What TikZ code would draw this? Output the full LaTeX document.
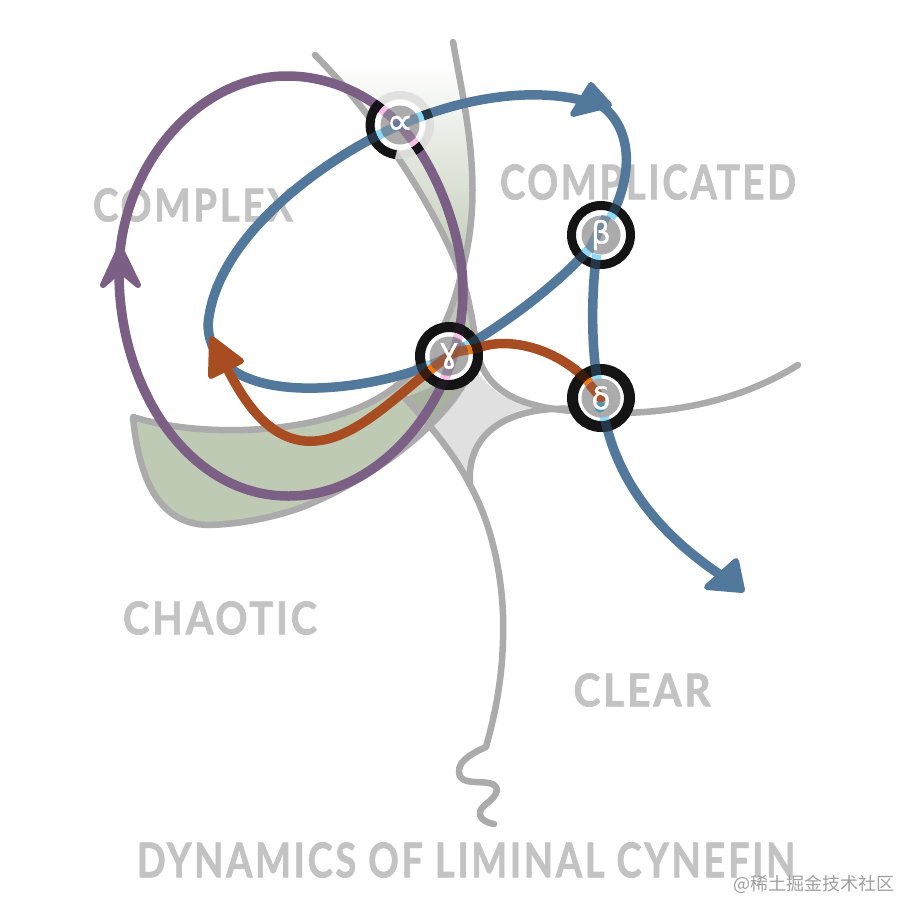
\documentclass[tikz,border=0pt]{standalone}
\usepackage{fontspec}
\setmainfont{Lato}[BoldFont={Lato Bold},BoldFeatures={FakeBold=1.6},LetterSpace=7]
\newfontfamily\gk{DejaVu Sans}[FakeBold=.6]
\newfontfamily\cjk{Noto Sans CJK SC}
\definecolor{bl}{HTML}{52799B}
\definecolor{pu}{HTML}{7B5F85}
\definecolor{rd}{HTML}{A84C22}
\definecolor{gy}{HTML}{ABABAB}
\definecolor{tx}{HTML}{C3C3C3}
\definecolor{gn}{HTML}{BFCAB5}
\definecolor{lg}{HTML}{E0E0E0}
\tikzset{
 lineg/.style={draw=gy,line width=6.5pt,line cap=round,line join=round},
 curve/.style={line width=9.5pt,line cap=round},
 tipb/.style={fill=#1,draw=#1,line width=6pt,line join=round},
 lab/.style={text=tx,inner sep=0pt,font=\bfseries},
 hubtxt/.style={text=white,inner sep=0pt},
 disc/.style={circle,fill=gy,draw=none,minimum size=39pt,inner sep=0pt},
}
\newcommand{\lbl}[5]{\node[lab] (#1) at (#2) {\resizebox{#3pt}{#4pt}{#5}};}
\newcommand{\gf}[1]{\gk\fontsize{#1}{#1}\selectfont}
\begin{document}
\begin{tikzpicture}[x=1pt,y=-1pt]
\useasboundingbox (0,0) rectangle (900,900);
\coordinate (a) at (400,125);
\coordinate (b) at (601,235);
\coordinate (g) at (449,356);
\coordinate (d) at (601,398);
% paths
\def\bluepathA{(600,106) .. controls (555,88) and (480,90) .. (a) .. controls (330,155) and (215,235) .. (208,325) .. controls (212,420) and (396,388) .. (g) .. controls (505,325) and (565,280) .. (b)}
\def\bluepathB{(592,100) .. controls (625,115) and (645,165) .. (b) .. controls (592,260) and (588,350) .. (d) .. controls (612,480) and (660,535) .. (725,578)}
\def\redpath{(d) .. controls (570,350) and (510,335) .. (478,348) .. controls (465,351) and (457,350) .. (g) .. controls (400,390) and (355,445) .. (305,441) .. controls (260,437) and (235,385) .. (218,350)}
\def\purplepath{(119,270) .. controls (120,170) and (195,76) .. (287,76) .. controls (330,76) and (370,95) .. (a) .. controls (440,170) and (463,240) .. (463,290) .. controls (463,400) and (380,497) .. (288,496) .. controls (190,496) and (118,390) .. (119,270) -- cycle}
% fills
\fill[top color=white,middle color=gn!85,bottom color=gn] (322,62) -- (456,62) .. controls (466,115) and (485,190) .. (461,275) .. controls (445,230) and (390,130) .. (322,62) -- cycle;
\fill[gn] (133,417) .. controls (200,438) and (310,435) .. (375,400) .. controls (420,375) and (447,335) .. (461,275) .. controls (470,300) and (475,325) .. (476,345) .. controls (476,400) and (385,475) .. (300,508) .. controls (265,520) and (235,524) .. (210,525) .. controls (165,525) and (140,490) .. (133,417) -- cycle;
\fill[lg,blend mode=multiply] (405,398) -- (476,368) .. controls (490,395) and (515,403) .. (540,407) .. controls (500,410) and (470,435) .. (470,485) .. controls (455,455) and (430,425) .. (405,398) -- cycle;
% gray lines
\draw[lineg] (315,55) .. controls (390,130) and (445,230) .. (461,275) .. controls (470,300) and (475,335) .. (476,345) .. controls (480,380) and (505,398) .. (535,405) .. controls (560,412) and (590,412) .. (620,413) .. controls (690,412) and (750,395) .. (798,365);
\draw[lineg] (453,42) .. controls (466,115) and (485,190) .. (461,275) .. controls (447,335) and (420,375) .. (375,400) .. controls (310,435) and (200,438) .. (133,417) .. controls (140,490) and (165,525) .. (210,525) .. controls (235,524) and (265,520) .. (300,508) .. controls (385,475) and (476,400) .. (476,345);
\draw[lineg] (600,412) .. controls (530,400) and (465,420) .. (470,485) .. controls (495,530) and (505,590) .. (503,640) .. controls (502,680) and (495,715) .. (486,747) .. controls (475,752) and (458,760) .. (459,772) .. controls (460,790) and (495,775) .. (497,790) .. controls (495,802) and (478,805) .. (480,815) .. controls (481,820) and (488,823) .. (494,824);
\draw[lineg] (405,398) .. controls (430,425) and (455,455) .. (470,485);
% labels
\lbl{t1}{193,205}{200}{33}{COMPLEX}
\lbl{t2}{648,182}{296}{35}{COMPLICATED}
\lbl{t3}{220,618}{194}{33}{CHAOTIC}
\lbl{t4}{642,690}{137}{33}{CLEAR}
\lbl{t5}{466,860}{658}{35}{DYNAMICS OF LIMINAL CYNEFIN}
\node[inner sep=0pt,text=gray!75,font=\cjk\fontsize{18}{18}\selectfont] (wm) at (814,884) {@稀土掘金技术社区};
% curves
\draw[curve,pu] \purplepath;
\draw[curve,bl] \bluepathA;
\draw[curve,bl] \bluepathB;
\draw[curve,rd] \redpath;
% arrowheads
\path[tipb=bl] (609,105) -- (573,114) -- (591,85) -- cycle;
\path[tipb=bl] (742,590) -- (707,587) -- (736,561) -- cycle;
\path[tipb=rd] (212,339) -- (211,376) -- (241,361) -- cycle;
\path[tipb=pu] (120,248) -- (103,285) -- (120,270) -- (138,285) -- cycle;
% hubs
\foreach \h/\ir/\dr in {b/25/20,g/24/20,d/23/19}{
 \fill[white] (\h) circle[radius=\ir pt];
 \draw[black!92,line width=34pt-\ir pt] (\h) circle[radius=17pt+\ir pt/2];
 \begin{scope}[even odd rule]
  \clip (\h) circle[radius=34pt] (\h) circle[radius=\ir pt];
  \draw[curve,bl!45!black] \bluepathA; \draw[curve,bl!45!black] \bluepathB;
  \draw[curve,rd!35!black] \redpath;
  \draw[curve,pu!25!black] \purplepath;
 \end{scope}
}
% alpha ring
\draw[gy!45,line width=8pt,opacity=.7] (a) circle[radius=30pt];
\draw[black!92,line width=9pt] (a)++(133:30pt) arc[start angle=133,end angle=262,radius=30pt];
\fill[white] (a) circle[radius=25pt];
\begin{scope}[even odd rule]
 \clip (a) circle[radius=34pt] (a) circle[radius=25pt];
 \draw[curve,bl!45!black] \bluepathA;
 \draw[curve,pu!20!black] \purplepath;
\end{scope}
% inner coloured ring crossings
\foreach \h/\ir/\dr in {a/25/20,b/25/20,g/24/20,d/23/19}{
 \begin{scope}[even odd rule]
  \clip (\h) circle[radius=\ir pt] (\h) circle[radius=\dr pt];
  \draw[curve,cyan!45] \bluepathA; \draw[curve,cyan!45] \bluepathB;
  \draw[curve,magenta!25] \purplepath;
  \draw[curve,orange!85!rd] \redpath;
 \end{scope}
 \node[disc] (h\h) at (\h) {};
}
% muted strands in discs
\begin{scope}
 \clip (a) circle[radius=20pt];
 \draw[curve,pu,opacity=.65] \purplepath;
 \draw[curve,bl,opacity=.6] \bluepathA;
\end{scope}
\begin{scope}
 \clip (b) circle[radius=20pt];
 \draw[curve,bl,opacity=.6] (612,205) -- (585,258);
\end{scope}
\begin{scope}
 \clip (g) circle[radius=20pt];
 \draw[curve,pu,opacity=.5] \purplepath;
 \draw[curve,bl,opacity=.6] \bluepathA;
 \draw[curve,rd,opacity=.8] \redpath;
\end{scope}
\begin{scope}
 \clip (d) circle[radius=19pt];
 \draw[curve,rd,opacity=.9] (d) -- (590,385);
 \fill[bl!80!cyan,opacity=.9] (600,407) circle[radius=5.5pt];
\end{scope}
\node[hubtxt,font=\gf{38}] (la) at (a) {∝};
\node[hubtxt,font=\gf{31}] (lb) at (b) {β};
\node[hubtxt,font=\gf{34}] (lg) at (g) {ɣ};
\node[hubtxt,font=\gf{31}] (ld) at (d) {δ};
\end{tikzpicture}
\end{document}
